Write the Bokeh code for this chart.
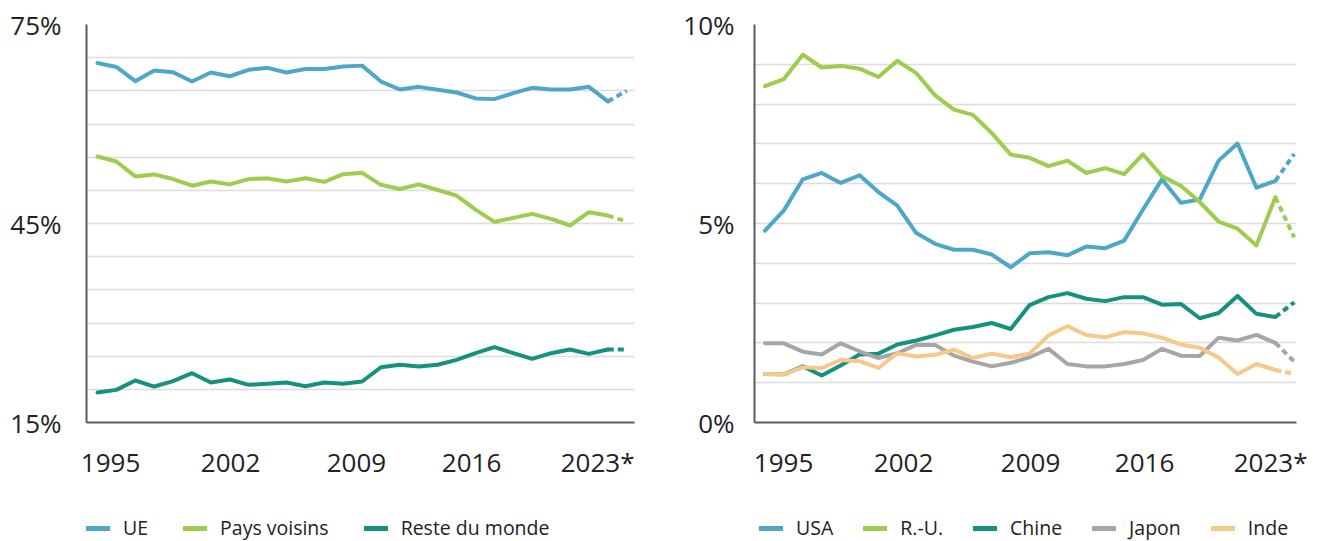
from bokeh.plotting import figure
from bokeh.models import Range1d, FixedTicker, Legend, LegendItem, PrintfTickFormatter
from bokeh.layouts import row, column
from bokeh.embed import file_html
from bokeh.resources import INLINE

# ---------------- data ----------------
YEARS = list(range(1995, 2024))

UE = [69.2, 68.6, 66.45, 68.07, 67.8, 66.4, 67.76, 67.2, 68.17, 68.47, 67.76, 68.3, 68.3, 68.67,
      68.8, 66.4, 65.2, 65.6, 65.15, 64.75, 63.85, 63.75, 64.65, 65.45, 65.2, 65.2, 65.6, 63.4, 65.0]
PAYS_VOISINS = [55.1, 54.35, 52.1, 52.4, 51.7, 50.7, 51.33, 50.9, 51.7, 51.8, 51.33, 51.83, 51.28, 52.43,
                52.64, 50.83, 50.2, 50.9, 50.05, 49.2, 47.1, 45.25, 45.85, 46.45, 45.7, 44.7, 46.7, 46.2, 45.3]
RESTE_DU_MONDE = [19.52, 19.92, 21.33, 20.42, 21.23, 22.43, 21.03, 21.48, 20.68, 20.83, 21.03, 20.47, 21.03, 20.83,
                  21.18, 23.33, 23.7, 23.44, 23.7, 24.45, 25.45, 26.35, 25.45, 24.6, 25.45, 26.0, 25.35, 26.0, 26.0]

USA = [4.82, 5.33, 6.11, 6.27, 6.02, 6.21, 5.79, 5.45, 4.76, 4.49, 4.34, 4.34, 4.22, 3.90,
       4.25, 4.28, 4.20, 4.42, 4.38, 4.57, 5.35, 6.11, 5.52, 5.60, 6.58, 7.01, 5.90, 6.07, 6.75]
RU = [8.45, 8.63, 9.24, 8.92, 8.96, 8.89, 8.68, 9.09, 8.78, 8.22, 7.86, 7.73, 7.27, 6.73,
      6.65, 6.44, 6.58, 6.27, 6.39, 6.24, 6.74, 6.19, 5.95, 5.54, 5.05, 4.87, 4.45, 5.66, 4.65]
CHINE = [1.22, 1.21, 1.41, 1.18, 1.43, 1.71, 1.73, 1.96, 2.06, 2.19, 2.33, 2.40, 2.50, 2.35,
         2.95, 3.15, 3.25, 3.11, 3.05, 3.15, 3.15, 2.96, 2.98, 2.62, 2.75, 3.18, 2.73, 2.65, 3.02]
JAPON = [1.99, 1.99, 1.78, 1.71, 1.99, 1.79, 1.62, 1.74, 1.95, 1.95, 1.68, 1.53, 1.41, 1.50,
         1.64, 1.85, 1.47, 1.41, 1.41, 1.47, 1.57, 1.85, 1.68, 1.67, 2.13, 2.06, 2.20, 2.00, 1.53]
INDE = [1.22, 1.21, 1.39, 1.37, 1.57, 1.54, 1.37, 1.74, 1.66, 1.70, 1.83, 1.62, 1.73, 1.64,
        1.73, 2.19, 2.42, 2.20, 2.14, 2.27, 2.24, 2.13, 1.96, 1.88, 1.63, 1.22, 1.47, 1.32, 1.22]

X_TICK_LABELS = ["1995", "2002", "2009", "2016", "2023*"]
LEFT_Y_LABELS = [15, 45, 75]
RIGHT_Y_LABELS = [0, 5, 10]

LEFT_SERIES = [("UE", UE, "#4ea7c9"), ("Pays voisins", PAYS_VOISINS, "#9dcd4d"),
               ("Reste du monde", RESTE_DU_MONDE, "#17917f")]
RIGHT_SERIES = [("USA", USA, "#4ea7c9"), ("R.-U.", RU, "#9dcd4d"), ("Chine", CHINE, "#17917f"),
                ("Japon", JAPON, "#a6a6a6"), ("Inde", INDE, "#f6c88a")]

FONT = "Open Sans"
TEXT_COLOR = "#222222"
PANEL_W = 660
MAIN_H = 490
LEGEND_H = 51


def make_panel(series, y_start, y_end, y_labels, grid_step, x_start, x_end, tick_pos,
               border_left, border_right, y_standoff, legend_x, legend_spacing):
    p = figure(width=PANEL_W, height=MAIN_H, output_backend="svg", toolbar_location=None,
               x_range=Range1d(x_start, x_end), y_range=Range1d(y_start, y_end),
               min_border_left=border_left, min_border_right=border_right,
               min_border_top=24, min_border_bottom=MAIN_H - 24 - 398)
    p.outline_line_color = None
    p.background_fill_color = "white"
    p.border_fill_color = "white"

    p.xgrid.visible = False
    grid_ticks = []
    v = y_start
    while v <= y_end + 1e-9:
        grid_ticks.append(v)
        v += grid_step
    p.ygrid.ticker = FixedTicker(ticks=grid_ticks)
    p.ygrid.grid_line_color = "#dcdcdc"
    p.ygrid.grid_line_width = 1.6

    p.yaxis.ticker = FixedTicker(ticks=y_labels)
    p.yaxis.formatter = PrintfTickFormatter(format="%d%%")
    p.xaxis.ticker = FixedTicker(ticks=tick_pos)
    p.xaxis.major_label_overrides = {t: lab for t, lab in zip(tick_pos, X_TICK_LABELS)}

    for ax in (p.xaxis, p.yaxis):
        ax.axis_line_color = "#5a5a5a"
        ax.axis_line_width = 2
        ax.major_tick_line_color = None
        ax.minor_tick_line_color = None
        ax.major_tick_out = 0
        ax.major_tick_in = 0
        ax.major_label_text_font = FONT
        ax.major_label_text_font_size = "26px"
        ax.major_label_text_color = TEXT_COLOR
    p.yaxis.major_label_standoff = y_standoff
    p.xaxis.major_label_standoff = 21

    for name, vals, color in series:
        p.line(YEARS[:-1], vals[:-1], line_color=color, line_width=4,
               line_join="round", line_cap="round")
        p.line(YEARS[-2:], vals[-2:], line_color=color, line_width=4, line_dash="6 4")

    # legend strip below the chart (series drawn out of its view, only the legend shows)
    lg = figure(width=PANEL_W, height=LEGEND_H, output_backend="svg", toolbar_location=None,
                x_range=Range1d(0, 1), y_range=Range1d(0, 1),
                x_axis_type=None, y_axis_type=None,
                min_border_left=0, min_border_right=0, min_border_top=0, min_border_bottom=0)
    lg.outline_line_color = None
    lg.grid.visible = False
    items = []
    for name, vals, color in series:
        r = lg.line(YEARS, vals, line_color=color, line_width=5, line_cap="round")
        items.append(LegendItem(label=name, renderers=[r]))
    legend = Legend(items=items, orientation="horizontal", location=(legend_x, 0),
                    label_text_font=FONT, label_text_font_size="19.5px",
                    label_text_color=TEXT_COLOR, glyph_width=24, glyph_height=20,
                    label_standoff=13, spacing=legend_spacing, padding=0, margin=0,
                    border_line_alpha=0, background_fill_alpha=0)
    lg.add_layout(legend, "center")
    return column(p, lg, spacing=0)


left_ticks = [1995.69, 2002.04, 2008.70, 2014.79, 2021.46]
right_ticks = [1995.98, 2002.33, 2009.05, 2015.08, 2021.75]

left = make_panel(LEFT_SERIES, 15, 75, LEFT_Y_LABELS, 5, 1994.418, 2023.413, left_ticks,
                  86, 26, 25, 0, 35)
right = make_panel(RIGHT_SERIES, 0, 10, RIGHT_Y_LABELS, 1, 1994.444, 2023.12, right_ticks,
                   94, 24, 20, 5, 30)

layout = row(left, right, spacing=0)
open("out.html", "w").write(file_html(layout, INLINE))
